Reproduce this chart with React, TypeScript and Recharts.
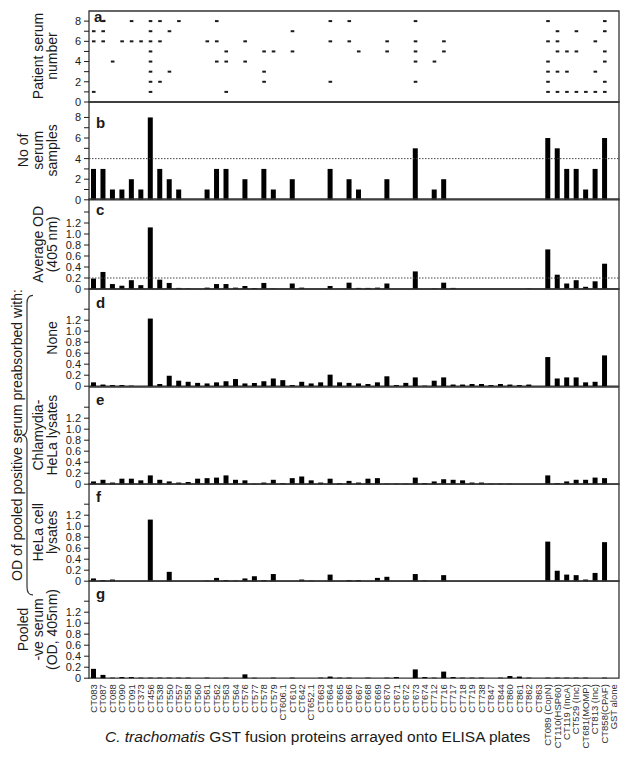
import React from 'react';
import {
  BarChart,
  Bar,
  ScatterChart,
  Scatter,
  XAxis,
  YAxis,
  ReferenceArea,
  ReferenceLine,
} from 'recharts';

const FONT = '"Liberation Sans", Arial, Helvetica, sans-serif';

const categories = [
  'CT083', 'CT087', 'CT088', 'CT090', 'CT091', 'CT373', 'CT456', 'CT538', 'CT550', 'CT557',
  'CT558', 'CT560', 'CT561', 'CT562', 'CT563', 'CT564', 'CT576', 'CT577', 'CT578', 'CT579',
  'CT606.1', 'CT610', 'CT642', 'CT652.1', 'CT663', 'CT664', 'CT665', 'CT666', 'CT667', 'CT668',
  'CT669', 'CT670', 'CT671', 'CT672', 'CT673', 'CT674', 'CT712', 'CT716', 'CT717', 'CT718',
  'CT719', 'CT738', 'CT847', 'CT844', 'CT860', 'CT861', 'CT862', 'CT863', 'CT089 (CopN)',
  'CT110(HSP60)', 'CT119 (IncA)', 'CT529 (Inc)', 'CT681(MOMP)', 'CT813 (Inc)', 'CT858(CPAF)',
  'GST alone',
];

// a. which patient sera (1-8) reacted with each protein
const serumHits: number[][] = [
  [7, 6, 1], [8, 7, 6], [4], [6], [8, 6], [6], [8, 7, 6, 5, 4, 3, 2, 1], [8, 6, 2], [7, 3], [8],
  [], [], [6], [8, 6, 4], [5, 4, 1], [], [6, 4], [], [5, 3, 2], [5],
  [], [7, 5], [], [], [], [8, 6, 2], [], [8, 6], [5], [],
  [], [6, 5], [], [], [8, 6, 5, 4, 2], [], [4], [6, 5], [], [],
  [], [], [], [], [], [], [], [], [8, 6, 4, 3, 2, 1],
  [7, 6, 5, 3, 1], [5, 3, 1], [7, 5, 1], [1], [6, 3, 1], [8, 7, 5, 4, 2, 1],
  [],
];

// b. number of positive sera
const serumCounts = [
  3, 3, 1, 1, 2, 1, 8, 3, 2, 1,
  0, 0, 1, 3, 3, 0, 2, 0, 3, 1,
  0, 2, 0, 0, 0, 3, 0, 2, 1, 0,
  0, 2, 0, 0, 5, 0, 1, 2, 0, 0,
  0, 0, 0, 0, 0, 0, 0, 0, 6,
  5, 3, 3, 1, 3, 6,
  0,
];

// c. average OD of the positive sera
const avgOD = [
  0.19, 0.31, 0.09, 0.06, 0.16, 0.07, 1.12, 0.17, 0.11, 0.02,
  0.01, 0, 0.025, 0.09, 0.09, 0.025, 0.055, 0.02, 0.11, 0.01,
  0, 0.1, 0.025, 0, 0, 0.055, 0, 0.115, 0.02, 0.02,
  0.025, 0.1, 0, 0, 0.32, 0, 0.01, 0.115, 0.02, 0,
  0, 0, 0, 0, 0, 0, 0.01, 0, 0.72,
  0.26, 0.1, 0.16, 0.04, 0.14, 0.46,
  0,
];

// d. pooled positive serum, no preabsorption
const odNone = [
  0.07, 0.03, 0.02, 0.02, 0.01, 0, 1.23, 0.04, 0.19, 0.1,
  0.08, 0.06, 0.05, 0.07, 0.09, 0.13, 0.05, 0.06, 0.09, 0.14,
  0.11, 0.02, 0.08, 0.05, 0.07, 0.21, 0.07, 0.06, 0.05, 0.04,
  0.07, 0.18, 0.02, 0.06, 0.16, 0.01, 0.1, 0.16, 0.03, 0.03,
  0.04, 0.04, 0.02, 0.04, 0.03, 0.02, 0.03, 0, 0.53,
  0.14, 0.16, 0.16, 0.07, 0.08, 0.56,
  0,
];

// e. preabsorbed with Chlamydia-HeLa lysates
const odChlamydiaHeLa = [
  0.05, 0.08, 0.03, 0.1, 0.1, 0.07, 0.16, 0.08, 0.05, 0.03,
  0.04, 0.1, 0.11, 0.12, 0.16, 0.08, 0.07, 0.01, 0.03, 0.08,
  0.02, 0.11, 0.14, 0.07, 0.03, 0.1, 0.02, 0.06, 0.03, 0.1,
  0.11, 0.01, 0.01, 0.01, 0.12, 0.02, 0.05, 0.09, 0.08, 0.07,
  0.03, 0.03, 0.01, 0.01, 0.01, 0, 0, 0, 0.16,
  0.02, 0.05, 0.08, 0.08, 0.12, 0.11,
  0,
];

// f. preabsorbed with HeLa cell lysates
const odHeLa = [
  0.05, 0.02, 0.03, 0, 0, 0, 1.12, 0, 0.17, 0,
  0, 0, 0.01, 0.06, 0.02, 0.01, 0.05, 0.09, 0.02, 0.13,
  0, 0, 0.03, 0.01, 0, 0.12, 0, 0.02, 0.02, 0,
  0.06, 0.08, 0, 0, 0.13, 0.01, 0, 0.11, 0, 0,
  0, 0, 0, 0, 0, 0, 0, 0, 0.72,
  0.19, 0.12, 0.11, 0.03, 0.15, 0.71,
  0,
];

// g. pooled negative serum
const odNegative = [
  0.17, 0.06, 0.01, 0.02, 0.02, 0.01, 0.01, 0.01, 0.01, 0.01,
  0.01, 0, 0.01, 0, 0.01, 0, 0.07, 0.01, 0, 0.01,
  0, 0.01, 0, 0, 0.01, 0.03, 0.01, 0.01, 0, 0.01,
  0, 0.01, 0.02, 0, 0.16, 0.02, 0.01, 0.12, 0.02, 0.01,
  0.01, 0.01, 0, 0.01, 0.04, 0.03, 0.01, 0, 0.01,
  0.01, 0.01, 0.01, 0.01, 0, 0.01,
  0,
];

const countTicks = [0, 1, 2, 3, 4, 5, 6, 7, 8];
const odTicks = [0, 0.2, 0.4, 0.6, 0.8, 1.0, 1.2, 1.4];

const W = 629;
const PAD = 8;
const Y_W = 89;
const RIGHT = 10;
const INK = '#1a1a1a';
const OD_SCALE = 55; // px per OD unit, shared by panels c-g

const countFmt = (v: number) => (v % 2 === 0 ? String(v) : '');
const odFmt = (v: number) => (v > 1.3 ? '' : v === 0 ? '0' : v.toFixed(1));

const yTick = { fontSize: 11, fill: INK, fontFamily: FONT };

const XTick = (props: any) => {
  const { x, y, payload } = props;
  return (
    <g transform={`translate(${x},${y})`}>
      <text
        transform="rotate(-90)"
        x={2}
        y={0}
        dy="0.32em"
        textAnchor="end"
        fontSize={9.5}
        fill="#333"
        fontFamily={FONT}
      >
        {payload.value}
      </text>
    </g>
  );
};

const Dash = (props: any) => {
  const { cx, cy } = props;
  return <rect x={cx - 1.8} y={cy - 1} width={3.6} height={2} fill={INK} />;
};

interface PanelProps {
  values: number[];
  top: number;
  height: number;
  max: number;
  ticks: number[];
  fmt: (v: number) => string;
  refY?: number;
  showX?: boolean;
}

const BarPanel: React.FC<PanelProps> = ({ values, top, height, max, ticks, fmt, refY, showX }) => {
  const data = categories.map((name, i) => ({ name, v: values[i] }));
  const xH = showX ? 64 : 0;
  return (
    <div style={{ position: 'absolute', left: 0, top: top - PAD }}>
      <BarChart
        width={W}
        height={height + PAD * 2 + xH}
        data={data}
        margin={{ top: PAD, right: RIGHT, bottom: PAD, left: 0 }}
      >
        <ReferenceArea
          x1={categories[0]}
          x2={categories[categories.length - 1]}
          y1={0}
          y2={max}
          fill="none"
          stroke="#333"
          strokeWidth={1.3}
          ifOverflow="visible"
        />
        <XAxis
          dataKey="name"
          interval={0}
          height={xH}
          axisLine={false}
          tickLine={false}
          tick={showX ? <XTick /> : false}
        />
        <YAxis
          type="number"
          domain={[0, max]}
          ticks={ticks}
          interval={0}
          width={Y_W}
          axisLine={false}
          tickLine={{ stroke: INK }}
          tickSize={5}
          tickMargin={3}
          tick={yTick}
          tickFormatter={fmt}
        />
        {refY !== undefined && (
          <ReferenceLine y={refY} stroke="#444" strokeDasharray="1.5 1.5" strokeWidth={1} />
        )}
        <Bar dataKey="v" fill="#000" barSize={5} isAnimationActive={false} />
      </BarChart>
    </div>
  );
};

const SerumDots: React.FC<{ top: number; height: number; max: number }> = ({ top, height, max }) => {
  const dots = serumHits.flatMap((list, i) => list.map((serum) => ({ pos: i, serum })));
  const last = categories.length - 0.5;
  return (
    <div style={{ position: 'absolute', left: 0, top: top - PAD }}>
      <ScatterChart
        width={W}
        height={height + PAD * 2}
        margin={{ top: PAD, right: RIGHT, bottom: PAD, left: 0 }}
      >
        <ReferenceArea
          x1={-0.5}
          x2={last}
          y1={0}
          y2={max}
          fill="none"
          stroke="#333"
          strokeWidth={1.3}
          ifOverflow="visible"
        />
        <XAxis type="number" dataKey="pos" domain={[-0.5, last]} hide />
        <YAxis
          type="number"
          dataKey="serum"
          domain={[0, max]}
          ticks={countTicks}
          interval={0}
          width={Y_W}
          axisLine={false}
          tickLine={{ stroke: INK }}
          tickSize={5}
          tickMargin={3}
          tick={yTick}
          tickFormatter={countFmt}
        />
        <Scatter data={dots} shape={<Dash />} isAnimationActive={false} />
      </ScatterChart>
    </div>
  );
};

// plot area tops / bottoms (page px)
const rows = [10.5, 101.5, 199.3, 289.3, 386.5, 483.7, 580.9, 678.1];

const SideLabel: React.FC<{ lines: string[]; cy: number }> = ({ lines, cy }) => (
  <>
    {lines.map((l, i) => {
      const x = 52.5 - (lines.length - 1 - i) * 14.5;
      return (
        <text
          key={i}
          transform={`translate(${x},${cy}) rotate(-90)`}
          textAnchor="middle"
          dy="0.35em"
          fontSize={14}
          fill={INK}
        >
          {l}
        </text>
      );
    })}
  </>
);

const letters = [
  { t: 'a.', y: 22 },
  { t: 'b', y: 128 },
  { t: 'c', y: 215 },
  { t: 'd', y: 307.5 },
  { t: 'e', y: 404.5 },
  { t: 'f', y: 501.5 },
  { t: 'g', y: 599 },
];

export default function App() {
  const h = (i: number) => rows[i + 1] - rows[i];
  const mid = (i: number) => (rows[i] + rows[i + 1]) / 2;
  const odMax = (i: number) => h(i) / OD_SCALE;
  const braceMid = (rows[3] + rows[6]) / 2;
  return (
    <div
      style={{
        position: 'absolute',
        left: 0,
        top: 0,
        width: W,
        height: 760,
        background: '#fff',
        fontFamily: FONT,
      }}
    >
      <SerumDots top={rows[0]} height={h(0)} max={9} />
      <BarPanel values={serumCounts} top={rows[1]} height={h(1)} max={9.5} ticks={countTicks} fmt={countFmt} refY={4} />
      <BarPanel values={avgOD} top={rows[2]} height={h(2)} max={odMax(2)} ticks={odTicks} fmt={odFmt} refY={0.2} />
      <BarPanel values={odNone} top={rows[3]} height={h(3)} max={odMax(3)} ticks={odTicks} fmt={odFmt} />
      <BarPanel values={odChlamydiaHeLa} top={rows[4]} height={h(4)} max={odMax(4)} ticks={odTicks} fmt={odFmt} />
      <BarPanel values={odHeLa} top={rows[5]} height={h(5)} max={odMax(5)} ticks={odTicks} fmt={odFmt} />
      <BarPanel values={odNegative} top={rows[6]} height={h(6)} max={odMax(6)} ticks={odTicks} fmt={odFmt} showX />

      <svg
        width={W}
        height={760}
        style={{ position: 'absolute', left: 0, top: 0, pointerEvents: 'none' }}
        fontFamily={FONT}
      >
        {letters.map((l, i) => (
          <text key={l.t} x={i === 0 ? 94 : 96} y={l.y} fontSize={15} fontWeight="bold" fill={INK}>
            {l.t}
          </text>
        ))}
        <SideLabel lines={['Patient serum', 'number']} cy={mid(0)} />
        <SideLabel lines={['No of', 'serum', 'samples']} cy={mid(1)} />
        <SideLabel lines={['Average OD', '(405 nm)']} cy={mid(2)} />
        <SideLabel lines={['None']} cy={mid(3)} />
        <SideLabel lines={['Chlamydia-', 'HeLa lysates']} cy={mid(4)} />
        <SideLabel lines={['HeLa cell', 'lysates']} cy={mid(5)} />
        <SideLabel lines={['Pooled', '-ve serum', '(OD, 405nm)']} cy={mid(6)} />

        <text
          transform={`translate(17,${braceMid}) rotate(-90)`}
          textAnchor="middle"
          dy="0.35em"
          fontSize={14}
          fill={INK}
        >
          OD of pooled positive serum preabsorbed with:
        </text>
        <path
          d={`M 33 ${rows[3] + 6} Q 27 ${rows[3] + 6} 27 ${rows[3] + 14} L 27 ${braceMid - 7} Q 27 ${braceMid} 22 ${braceMid} Q 27 ${braceMid} 27 ${braceMid + 7} L 27 ${rows[6] + 6} Q 27 ${rows[6] + 14} 33 ${rows[6] + 14}`}
          fill="none"
          stroke="#333"
          strokeWidth={1.2}
        />

        <text x={105} y={742} fontSize={15.5} fill={INK}>
          <tspan fontStyle="italic">C. trachomatis</tspan>
          <tspan> GST fusion proteins arrayed onto ELISA plates</tspan>
        </text>
      </svg>
    </div>
  );
}
